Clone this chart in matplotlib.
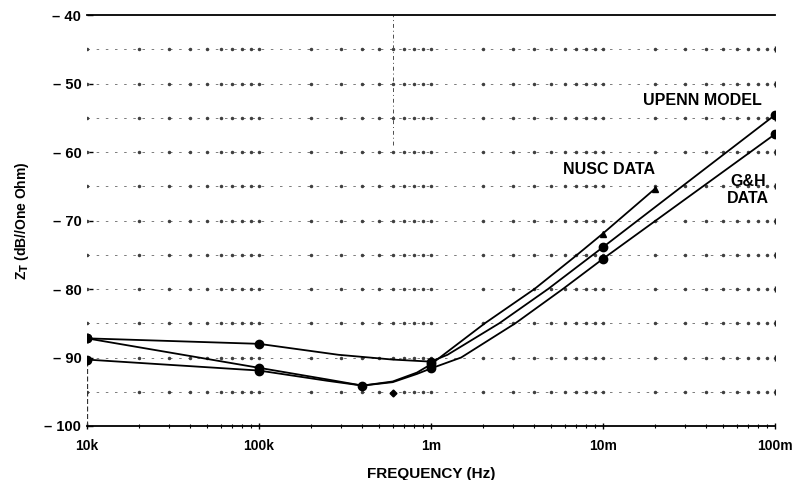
import numpy as np
import matplotlib
matplotlib.use("Agg")
import matplotlib.pyplot as plt

plt.rcParams["font.family"] = ["Liberation Sans", "DejaVu Sans"]
plt.rcParams["font.weight"] = "bold"

# transfer impedance curves, Z_T in dB re one ohm
upenn_f = [1e4, 1e5, 2.9e5, 6e5, 1e6, 1.25e6, 2.5e6, 4.8e6, 1e7, 1e8]
upenn_z = [-87.2, -88.0, -89.6, -90.3, -90.6, -89.6, -85.0, -80.0, -73.9, -54.6]
upenn_dots_f = [1e4, 1e5, 1e6, 1e7, 1e8]

gh_f = [1e4, 1e5, 2.5e5, 4e5, 6e5, 8.3e5, 1e6, 1.5e6, 3.1e6, 5.85e6, 1e7, 1e8]
gh_z = [-87.2, -91.5, -93.2, -94.1, -93.6, -92.4, -91.6, -90.0, -85.0, -80.0, -75.6, -57.4]
gh_dots_f = [1e4, 1e5, 4e5, 1e6, 1e7, 1e8]

nusc_f = [1e4, 1e5, 2.5e5, 4e5, 6e5, 8.3e5, 1e6, 2.06e6, 4e6, 6.7e6, 1e7, 2e7]
nusc_z = [-90.3, -91.9, -93.4, -94.1, -93.5, -92.2, -91.0, -85.0, -80.0, -75.5, -71.9, -65.4]
nusc_dots_f = [1e4, 1e5, 1e6]
nusc_tri_f = [1e7, 2e7]

stray_f = [6e5]
stray_z = [-95.2]

grid_levels = [-45, -50, -55, -60, -65, -70, -75, -80, -85, -90, -95]
yticks = [-40, -50, -60, -70, -80, -90, -100]
ytick_labels = ["\u2013 40", "\u2013 50", "\u2013 60", "\u2013 70", "\u2013 80", "\u2013 90", "\u2013 100"]
xticks = [1e4, 1e5, 1e6, 1e7, 1e8]
xtick_labels = ["10k", "100k", "1m", "10m", "100m"]

fig = plt.figure(figsize=(7.97, 4.80), dpi=100)
ax = fig.add_axes([0.109, 0.1125, 0.8632, 0.856])
ax.set_xscale("log")
ax.set_xlim(1e4, 1e8)
ax.set_ylim(-100, -40)

# dotted grid with marks at every log subdivision
minor_x = [m * 10.0**k for k in range(4, 8) for m in range(1, 10)] + [1e8]
for lv in grid_levels:
    ax.hlines(lv, 1e4, 1e8, colors="0.4", linewidth=0.6, linestyles=(0, (3, 8)))
    ax.plot(minor_x, [lv] * len(minor_x), ls="none", marker="o", ms=1.5, color="0.25")
    ax.plot([1e8], [lv], ls="none", marker="|", ms=5, color="0.15")
ax.vlines(6e5, -59, -40, colors="0.3", linewidth=0.7, linestyles=(0, (4, 3, 1, 3)))
ax.vlines(1e4, -100, -90, colors="0.2", linewidth=0.9, linestyles=(0, (4, 2)))

def curve(f, z, dots_f, **kw):
    ax.plot(f, z, color="black", linewidth=1.3, solid_joinstyle="round", **kw)
    zd = [z[f.index(d)] for d in dots_f]
    ax.plot(dots_f, zd, ls="none", marker="o", ms=6, color="black")

curve(upenn_f, upenn_z, upenn_dots_f)
curve(gh_f, gh_z, gh_dots_f)
curve(nusc_f, nusc_z, nusc_dots_f)
ax.plot(nusc_tri_f, [nusc_z[nusc_f.index(t)] for t in nusc_tri_f],
        ls="none", marker="^", ms=4, color="black")
ax.plot(stray_f, stray_z, ls="none", marker="D", ms=3.5, color="black")

for s in ["left", "right"]:
    ax.spines[s].set_visible(False)
for s in ["top", "bottom"]:
    ax.spines[s].set_linewidth(1.3)

ax.set_yticks(yticks)
ax.set_yticklabels(ytick_labels)
ax.set_xticks(xticks)
ax.set_xticklabels(xtick_labels)
ax.xaxis.set_minor_locator(matplotlib.ticker.FixedLocator(minor_x))
ax.xaxis.set_minor_formatter(matplotlib.ticker.NullFormatter())
ax.tick_params(axis="x", which="major", direction="inout", length=5, width=1, pad=7, labelsize=10)
ax.tick_params(axis="x", which="minor", direction="inout", length=3, width=0.8)
ax.tick_params(axis="y", direction="in", length=4, width=1, pad=4, labelsize=10.5)

ax.set_xlabel("FREQUENCY (Hz)", fontsize=11, fontweight="bold", labelpad=10)
ax.set_ylabel(r"Z$_\mathbf{T}$ (dB//One Ohm)", fontsize=10, fontweight="bold", labelpad=10)

ax.text(3.8e7, -52.4, "UPENN MODEL", fontsize=11.5, fontweight="bold", ha="center", va="center")
ax.text(1.08e7, -62.6, "NUSC DATA", fontsize=11.5, fontweight="bold", ha="center", va="center")
ax.text(7.0e7, -65.5, "G&H\nDATA", fontsize=11.5, fontweight="bold", ha="center", va="center",
        linespacing=1.15)

fig.savefig("out.png", dpi=100, facecolor="white")
